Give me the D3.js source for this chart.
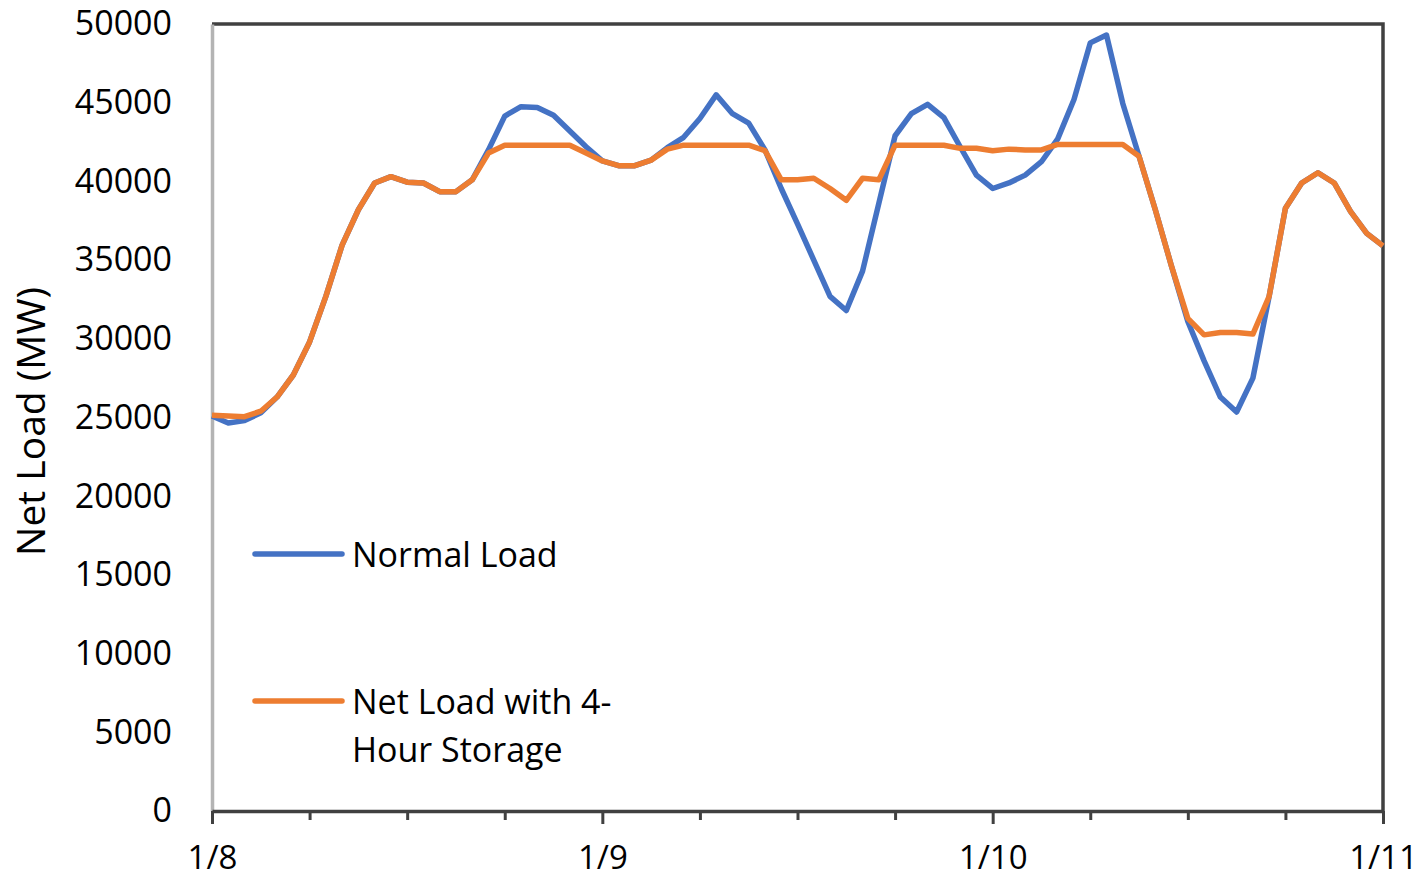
<!DOCTYPE html>
<html>
<head>
<meta charset="utf-8">
<script src="https://cdn.jsdelivr.net/npm/d3@7"></script>
<style>
  html, body { margin: 0; padding: 0; background: #fff; }
  svg { display: block; font-family: "Open Sans", "Noto Sans", sans-serif; }
</style>
</head>
<body>
<svg id="chart" width="1423" height="881"></svg>
<script>
// hourly readings, 1/8 00:00 -> 1/11 00:00
const hours = d3.range(0, 73);

const normalLoad = [
  25100, 24650, 24800, 25300, 26300, 27700, 29800, 32700, 35950, 38200,
  39900, 40300, 39950, 39900, 39350, 39350, 40100, 42000, 44150, 44750,
  44700, 44200, 43200, 42200, 41300, 41000, 41000, 41350, 42150, 42800,
  44000, 45500, 44300, 43700, 42000, 39550, 37300, 35000, 32700, 31800,
  34300, 38600, 42900, 44300, 44900, 44050, 42200, 40400, 39550, 39900,
  40400, 41250, 42700, 45200, 48800, 49300, 44950, 41600, 38200, 34600,
  31100, 28600, 26300, 25350, 27500, 32700, 38300, 39900, 40550, 39900,
  38100, 36700, 35900
];

const storageLoad = [
  25150, 25100, 25050, 25400, 26300, 27700, 29800, 32700, 35950, 38200,
  39900, 40300, 39950, 39900, 39350, 39350, 40100, 41800, 42300, 42300,
  42300, 42300, 42300, 41800, 41300, 41000, 41000, 41350, 42050, 42300,
  42300, 42300, 42300, 42300, 41950, 40100, 40100, 40200, 39550, 38800,
  40200, 40100, 42300, 42300, 42300, 42300, 42100, 42100, 41950, 42050,
  42000, 42000, 42350, 42350, 42350, 42350, 42350, 41600, 38200, 34600,
  31300, 30250, 30400, 30400, 30300, 32700, 38300, 39900, 40550, 39900,
  38100, 36700, 35900
];

const dayTicks = [0, 24, 48, 72];
const dayLabels = ["1/8", "1/9", "1/10", "1/11"];
const minorTicks = [6, 12, 18, 30, 36, 42, 54, 60, 66];
const yTicks = [0, 5000, 10000, 15000, 20000, 25000, 30000, 35000, 40000, 45000, 50000];

const seriesNames = ["Normal Load", "Net Load with 4-|Hour Storage"];
const seriesColors = ["#4472C4", "#ED7D31"];

const width = 1423, height = 881;
const margin = { top: 24, right: 40, bottom: 70, left: 212 };

const svg = d3.select("#chart");

const x = d3.scaleLinear()
    .domain([0, 72])
    .range([margin.left, width - margin.right]);

const y = d3.scaleLinear()
    .domain([0, 50000])
    .range([height - margin.bottom, margin.top]);

const fontSize = 34;

// frame: top + right dark border
svg.append("path")
    .attr("d", `M${x(0)},${y(50000)}H${x(72)}V${y(0)}`)
    .attr("fill", "none")
    .attr("stroke", "#404040")
    .attr("stroke-width", 3.5);

// y axis (light line, labels only)
svg.append("g")
    .attr("transform", `translate(${x(0)},0)`)
    .call(d3.axisLeft(y).tickValues(yTicks).tickSize(0).tickPadding(40).tickFormat(d3.format("d")))
    .call(g => g.select(".domain").attr("stroke", "#b4b4b4").attr("stroke-width", 3.5))
    .selectAll("text")
    .attr("fill", "#000")
    .style("font-size", fontSize + "px")
    .style("font-family", "'Open Sans', sans-serif");

// minor ticks on x
svg.append("g")
    .attr("transform", `translate(0,${y(0)})`)
    .call(d3.axisBottom(x).tickValues(minorTicks).tickSize(9).tickFormat(""))
    .call(g => g.select(".domain").remove())
    .selectAll("line")
    .attr("stroke", "#404040")
    .attr("stroke-width", 3);

// x axis with day labels
svg.append("g")
    .attr("transform", `translate(0,${y(0)})`)
    .call(d3.axisBottom(x).tickValues(dayTicks).tickSize(13).tickSizeOuter(0).tickPadding(22)
        .tickFormat((d, i) => dayLabels[i]))
    .call(g => g.select(".domain").attr("stroke", "#404040").attr("stroke-width", 3.5))
    .call(g => g.selectAll("line").attr("stroke", "#404040").attr("stroke-width", 3))
    .selectAll("text")
    .attr("fill", "#000")
    .style("font-size", "33px")
    .style("font-family", "'Open Sans', sans-serif");

// y label
svg.append("text")
    .attr("transform", `translate(45,${(y(0) + y(50000)) / 2 + 4}) rotate(-90)`)
    .attr("text-anchor", "middle")
    .style("font-size", "39px")
    .text("Net Load (MW)");

// lines
const line = d3.line()
    .x((d, i) => x(hours[i]))
    .y(d => y(d));

[normalLoad, storageLoad].forEach((vals, k) => {
    svg.append("path")
        .datum(vals)
        .attr("fill", "none")
        .attr("stroke", seriesColors[k])
        .attr("stroke-width", 5.5)
        .attr("stroke-linejoin", "round")
        .attr("d", line);
});

// legend
const legendY = [554, 701];
const legend = svg.append("g");
seriesNames.forEach((name, k) => {
    const g = legend.append("g").attr("transform", `translate(0,${legendY[k]})`);
    g.append("line")
        .attr("x1", 255).attr("x2", 342)
        .attr("stroke", seriesColors[k])
        .attr("stroke-width", 5.5)
        .attr("stroke-linecap", "round");
    const t = g.append("text")
        .attr("x", 352)
        .attr("y", 13)
        .style("font-size", fontSize + "px");
    name.split("|").forEach((s, i) => {
        t.append("tspan").attr("x", 352).attr("dy", i ? 48 : 0).text(s);
    });
});
</script>
</body>
</html>
